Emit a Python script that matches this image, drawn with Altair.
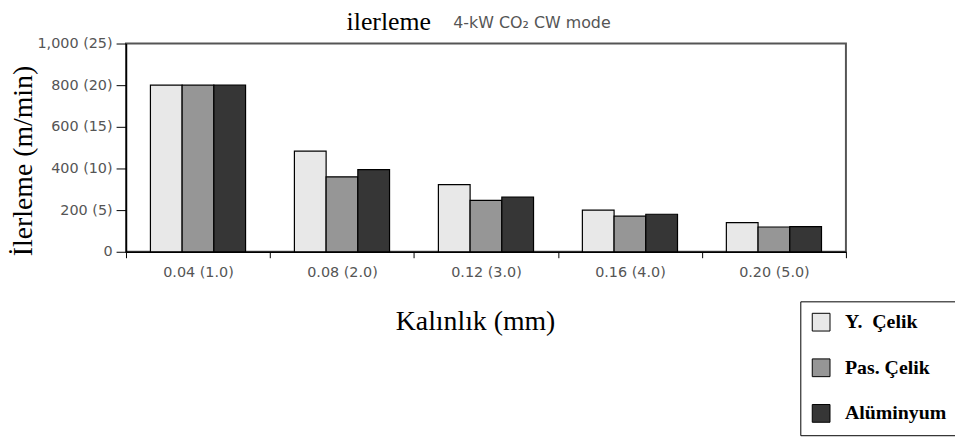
import altair as alt
import pandas as pd

thickness = ["0.04 (1.0)", "0.08 (2.0)", "0.12 (3.0)", "0.16 (4.0)", "0.20 (5.0)"]
materials = ["Y.\u00a0\u00a0Çelik", "Pas. Çelik", "Alüminyum"]
y_celik = [800, 483, 322, 200, 140]
pas_celik = [800, 360, 247, 171, 119]
aluminyum = [800, 394, 262, 180, 121]
colors = ["#e8e8e8", "#969696", "#363636"]
y_ticks = [0, 200, 400, 600, 800, 1000]

rows = []
for i, t in enumerate(thickness):
    for m, vals in zip(materials, [y_celik, pas_celik, aluminyum]):
        rows.append({"thick": t, "mat": m, "val": vals[i]})
df = pd.DataFrame(rows)

label_font = "DejaVu Sans"
serif = "Liberation Serif"

bars = alt.Chart(df).mark_bar(stroke="black", strokeWidth=1.2).encode(
    x=alt.X("thick:N", sort=thickness,
            scale=alt.Scale(paddingInner=0, paddingOuter=0),
            axis=alt.Axis(title="Kalınlık (mm)", labelAngle=0, tickBand="extent",
                          tickSize=6, tickColor="black", domainColor="black", domainWidth=1.5,
                          labelFont=label_font, labelFontSize=14.5, labelColor="#555555",
                          labelPadding=8,
                          titleFont=serif, titleFontSize=28, titleFontWeight="normal",
                          titleColor="black", titleX=352, titleY=78,
                          titleBaseline="alphabetic", titleAlign="center")),
    xOffset=alt.XOffset("mat:N", sort=materials,
                        scale=alt.Scale(paddingInner=0, paddingOuter=0.77)),
    y=alt.Y("val:Q", scale=alt.Scale(domain=[0, 1000], nice=False),
            axis=alt.Axis(title="İlerleme (m/min)", values=y_ticks, grid=False,
                          labelExpr="datum.value == 0 ? '0' : format(datum.value, ',') + ' (' + (datum.value / 40) + ')'",
                          tickSize=10, tickColor="black", domainColor="black", domainWidth=1.5,
                          labelFont=label_font, labelFontSize=14.5, labelColor="#555555",
                          labelPadding=4,
                          titleFont=serif, titleFontSize=28, titleFontWeight="normal",
                          titleColor="black", titleX=-95, titleY=118, titleAngle=-90,
                          titleBaseline="alphabetic", titleAlign="center")),
    fill=alt.Fill("mat:N", sort=materials,
                  scale=alt.Scale(domain=materials, range=colors),
                  legend=alt.Legend(title=None, orient="none", legendX=680, legendY=260,
                                    strokeColor="black", padding=11, fillColor="white",
                                    symbolType="square", symbolSize=320,
                                    symbolStrokeColor="black", symbolStrokeWidth=1,
                                    labelFont=serif, labelFontWeight="bold", labelFontSize=20,
                                    labelColor="black", labelOffset=14, rowPadding=24,
                                    labelLimit=300)),
)

title_df = pd.DataFrame({"t": ["ilerleme"]})
title1 = alt.Chart(title_df).mark_text(font=serif, fontSize=26, align="center",
                                       baseline="alphabetic", color="black").encode(
    text="t:N", x=alt.value(265), y=alt.value(-14))
sub_df = pd.DataFrame({"t": ["4-kW CO₂ CW mode"]})
title2 = alt.Chart(sub_df).mark_text(font=label_font, fontSize=16, align="left",
                                     baseline="alphabetic", color="#555555").encode(
    text="t:N", x=alt.value(330), y=alt.value(-16))

chart = alt.layer(bars, title1, title2).properties(
    width=726, height=210,
    background="white",
    autosize=alt.AutoSizeParams(type="none"),
    padding={"left": 119, "top": 34, "right": 110, "bottom": 187},
).configure_view(stroke="#555555", strokeWidth=2)

chart.save("out.html", embed_options={"renderer": "svg", "actions": False})
